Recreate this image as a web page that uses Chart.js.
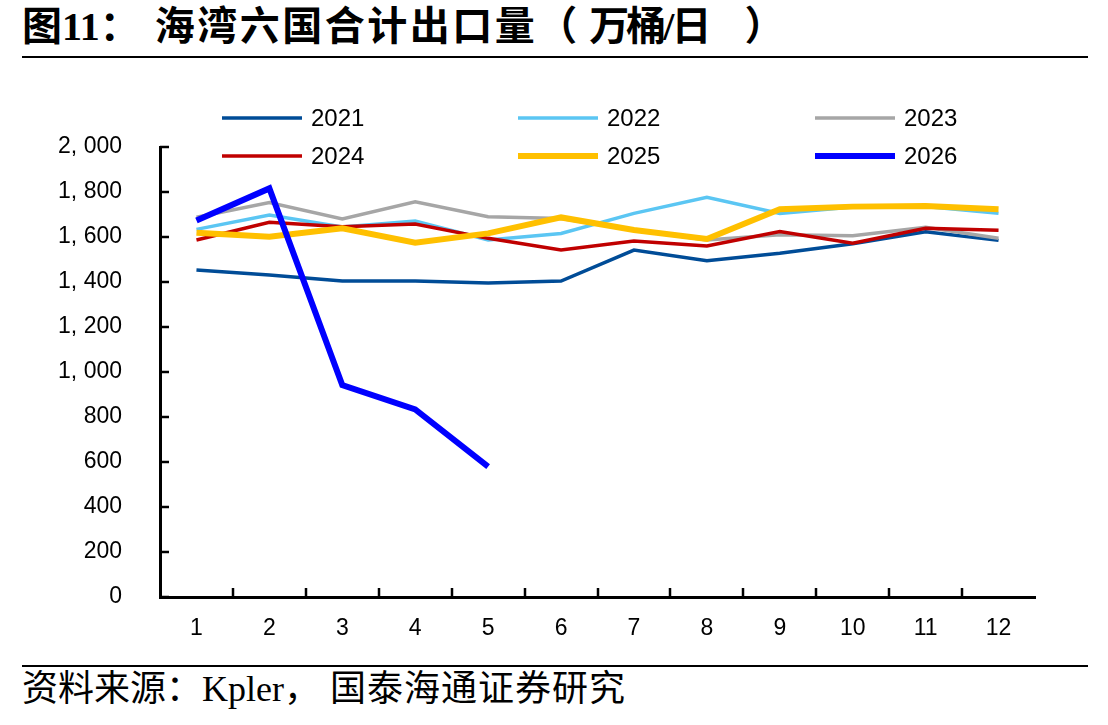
<!DOCTYPE html>
<html>
<head>
<meta charset="utf-8">
<script src="https://cdn.jsdelivr.net/npm/chart.js@4"></script>
<style>
  body { margin: 0; background: #fff; width: 1108px; height: 725px; position: relative; overflow: hidden; }
  #title { position: absolute; left: 22px; top: 7px; line-height: 1; font-family: "Liberation Serif", "Noto Sans CJK SC"; font-weight: 700; font-size: 40px; color: #000; white-space: nowrap; }
  #title .wide { margin-left: 15px; letter-spacing: 2.5px; }
  #title .unit { margin-left: 12px; letter-spacing: -3px; }
  #title .close { margin-left: 36px; }
  #topRule { position: absolute; left: 22px; top: 56px; width: 1066px; height: 2px; background: #000; }
  #bottomRule { position: absolute; left: 22px; top: 665px; width: 1066px; height: 2px; background: #000; }
  #source { position: absolute; left: 22px; top: 671px; line-height: 1; font-family: "Liberation Serif", "Noto Sans CJK SC"; font-size: 36px; color: #000; white-space: nowrap; }
  #source .org { margin-left: 10px; letter-spacing: 1px; }
  #wrap { position: absolute; left: 0; top: 60px; width: 1108px; height: 590px; }
</style>
</head>
<body>
<div id="title">图11：<span class="wide">海湾六国合计出口量</span>（<span class="unit">万桶/日</span><span class="close">）</span></div>
<div id="topRule"></div>
<div id="wrap"><canvas id="chart"></canvas></div>
<div id="bottomRule"></div>
<div id="source">资料来源：Kpler，<span class="org">国泰海通证券研究</span></div>
<script>
// months on the x axis
const months = ['1', '2', '3', '4', '5', '6', '7', '8', '9', '10', '11', '12'];

// exports, 10k barrels/day
const y2021 = [1453, 1431, 1404, 1404, 1396, 1404, 1542, 1494, 1528, 1570, 1623, 1585];
const y2022 = [1634, 1698, 1644, 1671, 1587, 1616, 1705, 1776, 1705, 1733, 1736, 1705];
const y2023 = [1688, 1753, 1680, 1757, 1690, 1682, 1632, 1587, 1610, 1606, 1643, 1594];
const y2024 = [1587, 1665, 1646, 1658, 1594, 1542, 1582, 1560, 1624, 1572, 1639, 1630];
const y2025 = [1619, 1601, 1639, 1575, 1616, 1687, 1631, 1591, 1723, 1735, 1738, 1723];
const y2026 = [1673, 1816, 942, 834, 579];

const yTicks = [0, 200, 400, 600, 800, 1000, 1200, 1400, 1600, 1800, 2000];
const yTickLabels = ['0', '200', '400', '600', '800', '1, 000', '1, 200', '1, 400', '1, 600', '1, 800', '2, 000'];

const series = [
    { label: '2021', data: y2021, color: '#004c97', width: 3.5, order: 5 },
    { label: '2022', data: y2022, color: '#5bc6f3', width: 3.5, order: 4 },
    { label: '2023', data: y2023, color: '#a6a6a6', width: 3.5, order: 3 },
    { label: '2024', data: y2024, color: '#c00000', width: 3.5, order: 2 },
    { label: '2025', data: y2025, color: '#ffc000', width: 6, order: 1 },
    { label: '2026', data: y2026, color: '#0000ff', width: 6, order: 0 }
];

const labelFont = { family: 'Liberation Sans', size: 23 };

// inward tick marks + legend drawn by hand
const decorPlugin = {
    id: 'decor',
    afterDraw(chart) {
        const ctx = chart.ctx;
        const x = chart.scales.x;
        const y = chart.scales.y;
        const area = chart.chartArea;
        ctx.save();
        ctx.strokeStyle = '#000';
        ctx.lineWidth = 2.5;
        yTicks.forEach(v => {
            const py = Math.round(y.getPixelForValue(v));
            ctx.beginPath();
            ctx.moveTo(area.left, py);
            ctx.lineTo(area.left + 9, py);
            ctx.stroke();
        });
        for (let i = 1; i < months.length; i++) {
            const px = Math.round((x.getPixelForValue(i - 1) + x.getPixelForValue(i)) / 2);
            ctx.beginPath();
            ctx.moveTo(px, area.bottom);
            ctx.lineTo(px, area.bottom - 9);
            ctx.stroke();
        }

        // legend: 3 columns x 2 rows
        const colX = [222, 518, 815];
        const rowY = [58, 96];
        ctx.font = '24px "Liberation Sans"';
        ctx.textBaseline = 'middle';
        ctx.textAlign = 'left';
        chart.data.datasets.forEach((ds, i) => {
            const lx = colX[i % 3];
            const ly = rowY[Math.floor(i / 3)];
            ctx.strokeStyle = ds.borderColor;
            ctx.lineWidth = ds.borderWidth;
            ctx.beginPath();
            ctx.moveTo(lx, ly);
            ctx.lineTo(lx + 80, ly);
            ctx.stroke();
            ctx.fillStyle = '#000';
            ctx.fillText(ds.label, lx + 89, ly + 1);
        });
        ctx.restore();
    }
};

new Chart(document.getElementById('chart'), {
    type: 'line',
    data: {
        labels: months,
        datasets: series.map(s => ({
            label: s.label,
            data: s.data,
            borderColor: s.color,
            backgroundColor: s.color,
            borderWidth: s.width,
            pointRadius: 0,
            tension: 0,
            order: s.order
        }))
    },
    options: {
        responsive: true,
        maintainAspectRatio: false,
        animation: false,
        layout: { padding: { top: 87, right: 73, left: 0, bottom: 0 } },
        plugins: {
            legend: { display: false },
            tooltip: { enabled: false }
        },
        scales: {
            x: {
                offset: true,
                grid: { display: false, drawTicks: false },
                border: { color: '#000', width: 3 },
                ticks: { color: '#000', font: labelFont, padding: 18, maxRotation: 0 },
                afterFit(scale) { scale.height = 53; }
            },
            y: {
                min: 0,
                max: 2000,
                grid: { display: false, drawTicks: false },
                border: { color: '#000', width: 3 },
                ticks: {
                    stepSize: 200,
                    color: '#000',
                    font: labelFont,
                    padding: 38,
                    callback: (v, i) => yTickLabels[i]
                },
                afterFit(scale) { scale.width = 160; }
            }
        }
    },
    plugins: [decorPlugin]
});
</script>
</body>
</html>
